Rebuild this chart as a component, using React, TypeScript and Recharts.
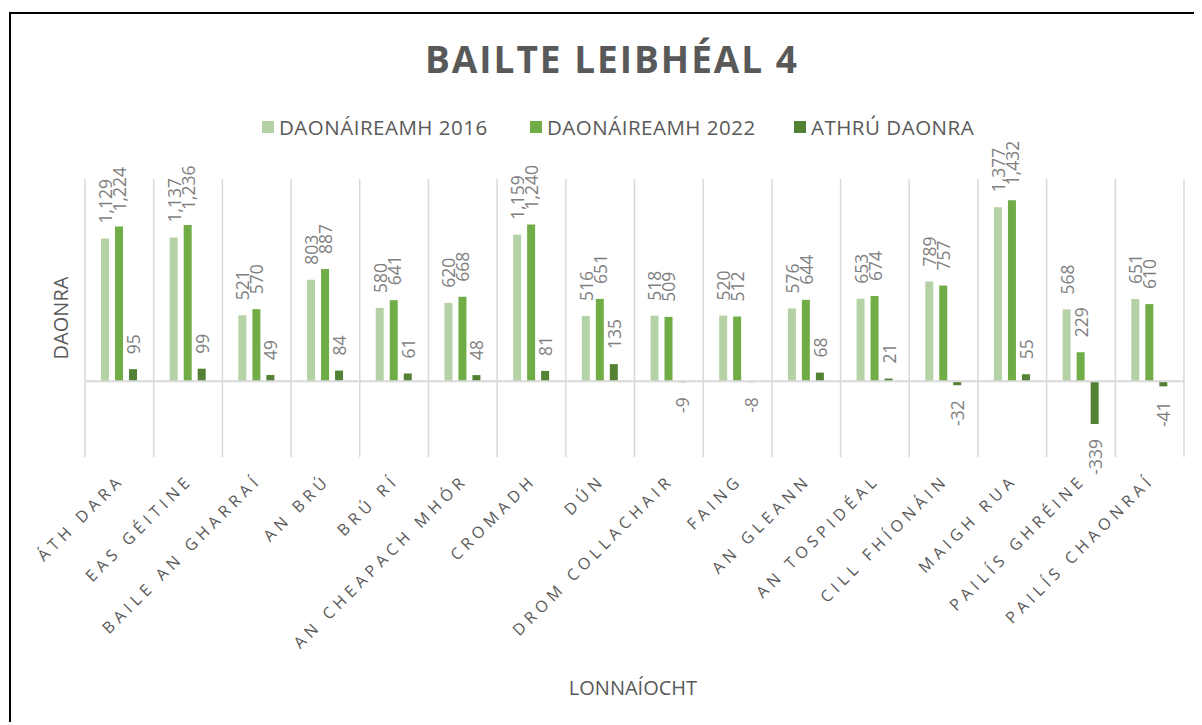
import React from 'react';
import { BarChart, Bar, XAxis, YAxis, CartesianGrid, ReferenceLine, LabelList } from 'recharts';

const categories = [
  'ÁTH DARA', 'EAS GÉITINE', 'BAILE AN GHARRAÍ', 'AN BRÚ', 'BRÚ RÍ', 'AN CHEAPACH MHÓR',
  'CROMADH', 'DÚN', 'DROM COLLACHAIR', 'FAING', 'AN GLEANN', 'AN TOSPIDÉAL',
  'CILL FHÍONÁIN', 'MAIGH RUA', 'PAILÍS GHRÉINE', 'PAILÍS CHAONRAÍ',
];
const pop2016 = [1129, 1137, 521, 803, 580, 620, 1159, 516, 518, 520, 576, 653, 789, 1377, 568, 651];
const pop2022 = [1224, 1236, 570, 887, 641, 668, 1240, 651, 509, 512, 644, 674, 757, 1432, 229, 610];
const popChange = [95, 99, 49, 84, 61, 48, 81, 135, -9, -8, 68, 21, -32, 55, -339, -41];
const seriesNames = ['DAONÁIREAMH 2016', 'DAONÁIREAMH 2022', 'ATHRÚ DAONRA'];
const seriesKeys = ['p2016', 'p2022', 'change'];
const seriesColors = ['#b4d2a5', '#70ad47', '#548235'];
const yDomain = [-600, 1600];
const titleText = 'BAILTE LEIBHÉAL 4';
const yLabel = 'DAONRA';
const xLabel = 'LONNAÍOCHT';

const data = categories.map((name, i) => ({
  name,
  p2016: pop2016[i],
  p2022: pop2022[i],
  change: popChange[i],
}));

const W = 1190;
const H = 705;
const MARGIN = { top: 165, right: 17, bottom: 42, left: 74 };
const XAXIS_H = 220;

const labelColor = '#7f7f7f';
const textColor = '#595959';
const font = '"Open Sans", "Noto Sans", sans-serif';

const renderLabel = (props: any) => {
  const { x, y, width, height, value } = props;
  const nx = Number(x), ny = Number(y), nw = Number(width), nh = Number(height);
  const cx = nx + nw / 2;
  const top = Math.min(ny, ny + nh);
  const bottom = Math.max(ny, ny + nh);
  const v = Number(value);
  const txt = v.toLocaleString('en-US');
  if (v >= 0) {
    const ty = top - 15;
    return (
      <text x={cx} y={ty} transform={`rotate(-90, ${cx}, ${ty})`} textAnchor="start"
        dominantBaseline="central" fontSize={17.5} fontFamily={font} fill={labelColor}>{txt}</text>
    );
  }
  const ty = bottom + 15;
  return (
    <text x={cx} y={ty} transform={`rotate(-90, ${cx}, ${ty})`} textAnchor="end"
      dominantBaseline="central" fontSize={17.5} fontFamily={font} fill={labelColor}>{txt}</text>
  );
};

const CatTick = (props: any) => {
  const { x, y, payload } = props;
  const tx = Number(x) + 6;
  const ty = Number(y) + 16;
  return (
    <text x={tx} y={ty} transform={`rotate(-45, ${tx}, ${ty})`} textAnchor="end"
      fontSize={16} letterSpacing={4.8} fontFamily={font} fill={textColor}>{payload.value}</text>
  );
};

const gridGen = (args: any) => {
  const off = args && args.offset ? args.offset : null;
  const left = off ? off.left : MARGIN.left;
  const width = off ? off.width : W - MARGIN.left - MARGIN.right;
  const n = categories.length;
  return Array.from({ length: n + 1 }, (_, i) => left + (i * width) / n);
};

const legendX = [251, 519, 783];

export default function App() {
  return (
    <div style={{ position: 'relative', top: 4, left: 1, width: 1195, height: 712, borderTop: '2px solid #000', borderLeft: '2px solid #000', background: '#fff' }}>
      <div style={{ position: 'absolute', left: 0, top: 0 }}>
        <BarChart width={W} height={H} data={data} margin={MARGIN} barSize={8} barGap={6}>
          <CartesianGrid horizontal={false} vertical={true} stroke="#d9d9d9" strokeWidth={1.5}
            verticalCoordinatesGenerator={gridGen} />
          <XAxis dataKey="name" interval={0} axisLine={false} tickLine={false} height={XAXIS_H} tick={<CatTick />} />
          <YAxis hide domain={yDomain} type="number" allowDataOverflow />
          <ReferenceLine y={0} stroke="#d9d9d9" strokeWidth={2} />
          {seriesKeys.map((k, i) => (
            <Bar key={k} dataKey={k} name={seriesNames[i]} fill={seriesColors[i]} isAnimationActive={false}>
              <LabelList dataKey={k} content={renderLabel} />
            </Bar>
          ))}
        </BarChart>
      </div>
      <svg width={W} height={H} style={{ position: 'absolute', left: 0, top: 0, pointerEvents: 'none' }}>
        <text x={600} y={59} textAnchor="middle" fontSize={37} fontWeight={700} fontFamily={font}
          fill={textColor} textLength={372} lengthAdjust="spacing">{titleText}</text>
        {seriesNames.map((s, i) => (
          <g key={s}>
            <rect x={legendX[i]} y={107} width={12} height={12} fill={seriesColors[i]} />
            <text x={legendX[i] + 17} y={120.5} fontSize={20.5} letterSpacing={0.5} fontFamily={font} fill={textColor}>{s}</text>
          </g>
        ))}
        <text x={49} y={304} transform="rotate(-90, 49, 304)" textAnchor="middle" dominantBaseline="central"
          fontSize={20} fontFamily={font} fill={textColor}>{yLabel}</text>
        <text x={622} y={681} textAnchor="middle" fontSize={20} fontFamily={font} fill={textColor}>{xLabel}</text>
      </svg>
    </div>
  );
}
